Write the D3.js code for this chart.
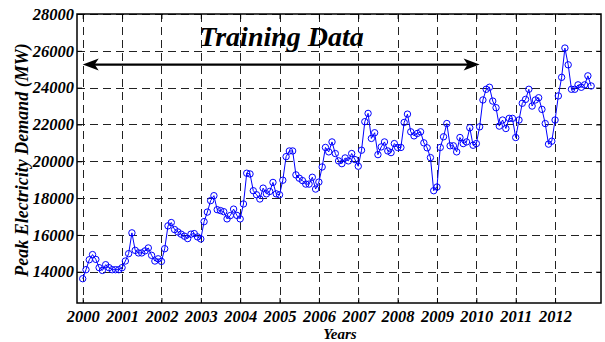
<!DOCTYPE html>
<html><head><meta charset="utf-8">
<script src="https://cdn.jsdelivr.net/npm/d3@7"></script>
<style>
html,body{margin:0;padding:0;background:#fff;}
svg{display:block;font-family:"Liberation Serif","Times New Roman",serif;}
</style></head>
<body>
<svg id="chart" width="605" height="342"></svg>
<script>
// Monthly peak electricity demand (MW), Jan 2000 .. Dec 2012
const y2000 = [13620,14110,14650,14930,14670,14220,14070,14380,14220,14110,14110,14110];
const y2001 = [14220,14580,14980,16110,15160,15020,15020,15130,15290,14890,14580,14700];
const y2002 = [14560,15250,16490,16670,16290,16160,16040,15930,15800,16040,16070,15890];
const y2003 = [15780,16720,17240,17860,18130,17370,17320,17260,16870,17050,17400,17060];
const y2004 = [16870,17680,19350,19310,18400,18180,17950,18540,18230,18360,18850,18230];
const y2005 = [18180,18970,20250,20560,20560,19260,19080,18950,18760,18760,19130,18490];
const y2006 = [18870,19690,20750,20510,21050,20420,20020,19870,20180,20020,20420,20090];
const y2007 = [19730,20600,22150,22600,21240,21550,20360,20780,21050,20560,20470,20960];
const y2008 = [20750,20750,22110,22560,21600,21380,21510,21600,21000,20730,20200,18400];
const y2009 = [18600,20750,21330,22050,20840,20840,20510,21290,20960,21050,21820,20870];
const y2010 = [20960,21870,23330,23910,24020,23270,22910,21910,22240,21780,22330,22330];
const y2011 = [21290,22240,23150,23360,23910,23000,23330,23450,22820,22050,20930,21090];
const y2012 = [22240,23550,24560,26150,25240,23910,23910,24150,24020,24150,24640,24090];
const yearLabels = ["2000","2001","2002","2003","2004","2005","2006","2007","2008","2009","2010","2011","2012"];
const yTicks = [14000,16000,18000,20000,22000,24000,26000,28000];
const titleText = "Training Data";
const xLabel = "Years";
const yLabel = "Peak Electricity Demand (MW)";
const arrowFrom = 0, arrowTo = 121;   // month indices
const arrowValue = 25250;

const demand = [].concat(y2000,y2001,y2002,y2003,y2004,y2005,y2006,y2007,y2008,y2009,y2010,y2011,y2012);
const data = demand.map((v,i)=>({m:i,v:v}));

const svg = d3.select("#chart");
const L=77, R=601, T=14, B=303;
const x = d3.scaleLinear().domain([-1.74,158]).range([L,R]);
const y = d3.scaleLinear().domain([12300,28000]).range([B,T]);
const xTickVals = yearLabels.map((d,i)=>i*12);

// grid
const grid = svg.append("g").attr("stroke","#222").attr("stroke-width",1).attr("stroke-dasharray","8,5");
grid.selectAll(".gx").data(xTickVals).join("line")
  .attr("x1",d=>Math.round(x(d))+0.5).attr("x2",d=>Math.round(x(d))+0.5).attr("y1",T).attr("y2",B);
grid.selectAll(".gy").data(yTicks).join("line")
  .attr("y1",d=>Math.round(y(d))+0.5).attr("y2",d=>Math.round(y(d))+0.5).attr("x1",L).attr("x2",R);

// axes with inward ticks
const xb = svg.append("g").attr("transform",`translate(0,${B})`)
  .call(d3.axisBottom(x).tickValues(xTickVals).tickFormat((d,i)=>yearLabels[i]).tickSizeInner(-5).tickSizeOuter(0).tickPadding(7));
const xt = svg.append("g").attr("transform",`translate(0,${T})`)
  .call(d3.axisTop(x).tickValues(xTickVals).tickFormat("").tickSizeInner(-5).tickSizeOuter(0));
const yl = svg.append("g").attr("transform",`translate(${L},0)`)
  .call(d3.axisLeft(y).tickValues(yTicks).tickFormat(d=>d).tickSizeInner(-5).tickSizeOuter(0).tickPadding(3));
const yr = svg.append("g").attr("transform",`translate(${R},0)`)
  .call(d3.axisRight(y).tickValues(yTicks).tickFormat("").tickSizeInner(-5).tickSizeOuter(0));
[xb,xt,yl,yr].forEach(g=>{
  g.select(".domain").remove();
  g.selectAll(".tick line").attr("stroke","#000").attr("stroke-width",1);
  g.selectAll("text").attr("font-family","'Liberation Serif',serif").attr("font-size","16.5px")
   .attr("font-weight","bold").attr("font-style","italic").attr("fill","#000");
});
xb.selectAll("text").attr("dy","0.71em");

// box
svg.append("rect").attr("x",L).attr("y",T).attr("width",R-L).attr("height",B-T)
  .attr("fill","none").attr("stroke","#000").attr("stroke-width",1.5);

// series
const line = d3.line().x(d=>x(d.m)).y(d=>y(d.v));
svg.append("path").datum(data).attr("d",line).attr("fill","none").attr("stroke","#0000ff").attr("stroke-width",1);
svg.append("g").selectAll("circle").data(data).join("circle")
  .attr("cx",d=>x(d.m)).attr("cy",d=>y(d.v)).attr("r",3.2)
  .attr("fill","none").attr("stroke","#0000ff").attr("stroke-width",1);

// arrow
const ay = y(arrowValue);
const ax1 = x(arrowFrom), ax2 = x(arrowTo);
svg.append("line").attr("x1",ax1+6).attr("x2",ax2-6).attr("y1",ay).attr("y2",ay)
  .attr("stroke","#000").attr("stroke-width",2.2);
svg.append("path").attr("d",`M${ax1},${ay} L${ax1+16},${ay-6} L${ax1+12},${ay} L${ax1+16},${ay+6} Z`).attr("fill","#000");
svg.append("path").attr("d",`M${ax2},${ay} L${ax2-16},${ay-6} L${ax2-12},${ay} L${ax2-16},${ay+6} Z`).attr("fill","#000");

// title
svg.append("text").attr("x",281.5).attr("y",46).attr("text-anchor","middle")
  .attr("font-size","28px").attr("font-weight","bold").attr("font-style","italic").text(titleText);

// axis titles
svg.append("text").attr("x",340).attr("y",339).attr("text-anchor","middle")
  .attr("font-size","15px").attr("font-weight","bold").attr("font-style","italic").text(xLabel);
svg.append("text").attr("transform","translate(28,160) rotate(-90)").attr("text-anchor","middle")
  .attr("font-size","18px").attr("font-weight","bold").attr("font-style","italic").text(yLabel);
</script>
</body></html>
